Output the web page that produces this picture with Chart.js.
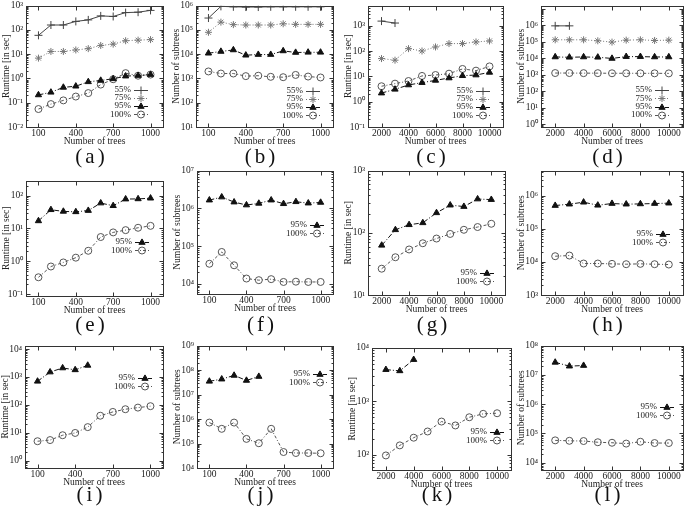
<!DOCTYPE html>
<html>
<head>
<meta charset="utf-8">
<script src="https://cdn.jsdelivr.net/npm/chart.js@4.4.1/dist/chart.umd.min.js"></script>
<style>
  html, body { margin: 0; padding: 0; background: #fff; }
  #fig { position: relative; width: 685px; height: 508px; overflow: hidden; background: #fff; }
  #fig canvas { position: absolute; }
</style>
</head>
<body>
<div id="fig"></div>
<script>
// x values and tick labels
const treesSmall = [100, 200, 300, 400, 500, 600, 700, 800, 900, 1000];
const treesLarge = [2000, 3000, 4000, 5000, 6000, 7000, 8000, 9000, 10000];
const ticksSmall = [100, 400, 700, 1000];
const ticksLarge = [2000, 4000, 6000, 8000, 10000];
const xTitle = 'Number of trees';
const runtimeTitle = 'Runtime [in sec]';
const subtreeTitle = 'Number of subtrees';

// (a) runtime, 100..1000 trees
const runA55 = [60, 160, 160, 225, 260, 380, 360, 520, 540, 640];
const runA75 = [6.9, 13, 13, 15, 17, 23, 26, 36, 38, 40];
const runA95 = [0.21, 0.27, 0.43, 0.48, 0.73, 0.83, 0.97, 1.25, 1.32, 1.45];
const runA100 = [0.055, 0.088, 0.125, 0.18, 0.25, 0.56, 0.93, 1.66, 1.3, 1.45];
// (b) subtrees, 100..1000 trees
const subB55 = [3.1e5, 9.4e5, 9e5, 8.8e5, 8.8e5, 9e5, 9e5, 9e5, 9e5, 9e5];
const subB75 = [8e4, 2.1e5, 1.66e5, 1.6e5, 1.6e5, 1.6e5, 1.8e5, 1.7e5, 1.7e5, 1.7e5];
const subB95 = [1.1e4, 1.3e4, 1.5e4, 9.1e3, 9.7e3, 9.7e3, 1.37e4, 1.18e4, 1.2e4, 1.2e4];
const subB100 = [1950, 1600, 1600, 1250, 1300, 1170, 1130, 1400, 1200, 1100];
// (c) runtime, 2000..10000 trees
const runC55 = [1550, 1300];
const runC75 = [51, 44, 126, 102, 147, 200, 200, 232, 254];
const runC95 = [2.2, 3.1, 4.6, 5.7, 7.0, 8.7, 10.7, 11.4, 14.5];
const runC100 = [4.1, 5.2, 6.6, 10.5, 11.4, 12.9, 19.8, 17, 25];
// (d) subtrees, 2000..10000 trees
const subD55 = [9.5e5, 9.5e5];
const subD75 = [1.35e5, 1.35e5, 1.35e5, 1.18e5, 9.8e4, 1.29e5, 1.35e5, 1.23e5, 1.29e5];
const subD95 = [1.23e4, 1.18e4, 1.23e4, 1.18e4, 1.0e4, 1.29e4, 1.29e4, 1.23e4, 1.23e4];
const subD100 = [1300, 1300, 1280, 1280, 1260, 1260, 1250, 1250, 1240];
// (e)
const runE95 = [17, 37, 33, 32, 35, 59, 49, 78, 79, 83];
const runE100 = [0.33, 0.7, 0.93, 1.3, 2.1, 5.5, 7.6, 8.9, 10.5, 12];
// (f)
const subF95 = [1.66e6, 2.0e6, 1.47e6, 1.23e6, 1.36e6, 1.66e6, 1.33e6, 1.5e6, 1.38e6, 1.44e6];
const subF100 = [3.4e4, 7.0e4, 3.1e4, 1.38e4, 1.25e4, 1.33e4, 1.12e4, 1.14e4, 1.12e4, 1.12e4];
// (g)
const runG95 = [63, 112, 135, 145, 210, 279, 265, 350, 343];
const runG100 = [26.5, 40.5, 54, 68, 81, 96, 112, 124, 140];
// (h)
const subH95 = [5e5, 5.5e5, 6.3e5, 5.1e5, 5.75e5, 5.5e5, 5.6e5, 5.75e5, 5.9e5];
const subH100 = [1.48e4, 1.55e4, 8.9e3, 8.9e3, 8.7e3, 8.5e3, 8.7e3, 8.5e3, 8.3e3];
// (i)
const runI95 = [700, 1500, 2100, 1800, 2600];
const runI100 = [5, 5.5, 8.2, 9.9, 16, 41, 56, 70, 80, 90];
// (j)
const subJ95 = [3.5e7, 4.3e7, 6.1e7, 3.8e7, 5.5e7];
const subJ100 = [7.2e5, 4e5, 7.2e5, 1.55e5, 1.03e5, 4e5, 4.5e4, 4.1e4, 4.1e4, 4.0e4];
// (k)
const runK95 = [3900, 3700, 6000];
const runK100 = [98, 151, 210, 274, 420, 355, 505, 585, 600];
// (l)
const subL95 = [2.7e7, 2e7, 2.1e7];
const subL100 = [5.8e4, 5.6e4, 5.5e4, 5.0e4, 4.8e4, 4.5e4, 5.2e4, 4.7e4, 4.7e4];

const FONT = "'Liberation Serif', 'Times New Roman', serif";
const INK = '#222';

// line / marker look of each series
const looks = {
  '55%':  { color: '#444', dash: [], point: 'cross', r: 4 },
  '75%':  { color: '#777', dash: [1, 2], point: 'star', r: 3.5 },
  '95%':  { color: '#111', dash: [5, 2, 1, 2], point: 'triangle', r: 3.6, fill: '#111' },
  '100%': { color: '#555', dash: [3, 2, 1, 2], point: 'circle', r: 3.5 }
};

// panel layout: box = plot frame [left, top, right, bottom] on the page
const panels = [
  { tag: 'a', xs: treesSmall, xt: ticksSmall, xr: [0, 1100], ye: [-2, 3], yTitle: runtimeTitle,
    lines: [['55%', runA55], ['75%', runA75], ['95%', runA95], ['100%', runA100]],
    box: [26, 5, 163, 127], rowBottom: 168, letterY: 157, key: [131, 89.5] },
  { tag: 'b', xs: treesSmall, xt: ticksSmall, xr: [0, 1100], ye: [1, 6], yTitle: subtreeTitle,
    lines: [['55%', subB55], ['75%', subB75], ['95%', subB95], ['100%', subB100]],
    box: [196, 5, 333, 127], rowBottom: 168, letterY: 157, key: [303, 90.5] },
  { tag: 'c', xs: treesLarge, xt: ticksLarge, xr: [1000, 11000], ye: [-1, 3.8], yTitle: runtimeTitle,
    lines: [['55%', runC55], ['75%', runC75], ['95%', runC95], ['100%', runC100]],
    box: [368, 5, 503, 127], rowBottom: 168, letterY: 157, key: [473, 90.5] },
  { tag: 'd', xs: treesLarge, xt: ticksLarge, xr: [1000, 11000], ye: [-0.16, 7.2], topLabel: 6, yTitle: subtreeTitle,
    lines: [['55%', subD55], ['75%', subD75], ['95%', subD95], ['100%', subD100]],
    box: [541, 5, 683, 127], rowBottom: 168, letterY: 157, key: [652, 90] },

  { tag: 'e', xs: treesSmall, xt: ticksSmall, xr: [0, 1100], ye: [-1.05, 2.45], yTitle: runtimeTitle,
    lines: [['95%', runE95], ['100%', runE100]],
    box: [26, 180, 163, 296], rowBottom: 338, letterY: 325, key: [132, 242] },
  { tag: 'f', xs: treesSmall, xt: ticksSmall, xr: [0, 1100], ye: [3.73, 7], yTitle: subtreeTitle,
    lines: [['95%', subF95], ['100%', subF100]],
    box: [197, 170, 333, 294], rowBottom: 338, letterY: 325, key: [307, 225] },
  { tag: 'g', xs: treesLarge, xt: ticksLarge, xr: [1000, 11000], ye: [1, 3], yTitle: runtimeTitle,
    lines: [['95%', runG95], ['100%', runG100]],
    box: [368, 170, 505, 295], rowBottom: 338, letterY: 325, key: [477, 273] },
  { tag: 'h', xs: treesLarge, xt: ticksLarge, xr: [1000, 11000], ye: [3, 6.75], yTitle: subtreeTitle,
    lines: [['95%', subH95], ['100%', subH100]],
    box: [541, 170, 683, 295], rowBottom: 338, letterY: 325, key: [653, 234] },

  { tag: 'i', xs: treesSmall, xt: ticksSmall, xr: [0, 1100], ye: [-0.26, 4.12], yTitle: runtimeTitle,
    lines: [['95%', runI95], ['100%', runI100]],
    box: [25, 345, 163, 468], rowBottom: 508, letterY: 495, key: [135, 378] },
  { tag: 'j', xs: treesSmall, xt: ticksSmall, xr: [0, 1100], ye: [4, 9], yTitle: subtreeTitle,
    lines: [['95%', subJ95], ['100%', subJ100]],
    box: [197, 345, 333, 468], rowBottom: 508, letterY: 495, key: [310, 374] },
  { tag: 'k', xs: treesLarge, xt: ticksLarge, xr: [1000, 11000], ye: [1.72, 4], yTitle: runtimeTitle,
    lines: [['95%', runK95], ['100%', runK100]],
    box: [372, 347, 511, 470], rowBottom: 508, letterY: 495, key: [487, 432] },
  { tag: 'l', xs: treesLarge, xt: ticksLarge, xr: [1000, 11000], ye: [3.75, 8], yTitle: subtreeTitle,
    lines: [['95%', subL95], ['100%', subL100]],
    box: [541, 345, 683, 470], rowBottom: 508, letterY: 495, key: [657, 407] }
];

const SUP = { '-': '\u207B', '0': '\u2070', '1': '\u00B9', '2': '\u00B2', '3': '\u00B3',
  '4': '\u2074', '5': '\u2075', '6': '\u2076', '7': '\u2077', '8': '\u2078', '9': '\u2079' };

function powerLabel(v) {
  const e = Math.round(Math.log10(v));
  return '10' + String(e).split('').map(c => SUP[c]).join('');
}

function drawMarker(ctx, look, x, y) {
  const r = look.r;
  ctx.save();
  ctx.setLineDash([]);
  ctx.lineWidth = 1;
  ctx.strokeStyle = look.color;
  ctx.beginPath();
  if (look.point === 'cross' || look.point === 'star') {
    ctx.moveTo(x - r, y); ctx.lineTo(x + r, y);
    ctx.moveTo(x, y - r); ctx.lineTo(x, y + r);
    if (look.point === 'star') {
      const d = r * 0.707;
      ctx.moveTo(x - d, y - d); ctx.lineTo(x + d, y + d);
      ctx.moveTo(x - d, y + d); ctx.lineTo(x + d, y - d);
    }
  } else if (look.point === 'triangle') {
    ctx.moveTo(x, y - r);
    ctx.lineTo(x + r * 0.866, y + r * 0.5);
    ctx.lineTo(x - r * 0.866, y + r * 0.5);
    ctx.closePath();
    ctx.fillStyle = look.fill;
    ctx.fill();
  } else {
    ctx.arc(x, y, r, 0, Math.PI * 2);
  }
  ctx.stroke();
  ctx.restore();
}

// frame with inward ticks (major + log minor) like the original plots
const framePlugin = {
  id: 'frame',
  beforeDatasetsDraw(chart) {
    const { ctx, chartArea: a, scales: { x, y } } = chart;
    const L = Math.round(a.left) + 0.5, R = Math.round(a.right) + 0.5;
    const T = Math.round(a.top) + 0.5, B = Math.round(a.bottom) + 0.5;
    ctx.save();
    ctx.strokeStyle = '#333';
    ctx.lineWidth = 1;
    ctx.strokeRect(L, T, R - L, B - T);
    ctx.beginPath();
    x.ticks.forEach(t => {
      const px = Math.round(x.getPixelForValue(t.value)) + 0.5;
      ctx.moveTo(px, B); ctx.lineTo(px, B - 4);
      ctx.moveTo(px, T); ctx.lineTo(px, T + 4);
    });
    const lo = Math.floor(Math.log10(y.min)), hi = Math.ceil(Math.log10(y.max));
    for (let e = lo; e <= hi; e++) {
      for (let m = 1; m < 10; m++) {
        const v = m * Math.pow(10, e);
        if (v < y.min * 0.999 || v > y.max * 1.001) continue;
        const py = Math.round(y.getPixelForValue(v)) + 0.5;
        const len = m === 1 ? 4 : 2;
        ctx.moveTo(L, py); ctx.lineTo(L + len, py);
        ctx.moveTo(R, py); ctx.lineTo(R - len, py);
      }
    }
    ctx.stroke();
    ctx.restore();
  }
};

const fig = document.getElementById('fig');
const TICK_SIZE = 9.5;
const LINE_H = TICK_SIZE * 1.2;

panels.forEach(p => {
  const [l, t, r, b] = p.box;
  const W = 26, padT = 8, padR = 12;
  const left = l - W, top = t - padT;
  const width = r - left + padR, height = p.rowBottom - top;
  const xHeight = p.rowBottom - b;
  const lastLabel = p.topLabel !== undefined ? p.topLabel : Math.floor(p.ye[1] + 1e-9);

  const canvas = document.createElement('canvas');
  canvas.width = width;
  canvas.height = height;
  canvas.style.left = left + 'px';
  canvas.style.top = top + 'px';
  canvas.style.width = width + 'px';
  canvas.style.height = height + 'px';
  fig.appendChild(canvas);

  const datasets = p.lines.map(([name, values]) => {
    const look = looks[name];
    return {
      label: name,
      data: values.map((v, i) => ({ x: p.xs[i], y: v })),
      borderColor: look.color,
      borderWidth: 1,
      borderDash: look.dash,
      pointStyle: look.point,
      pointRadius: look.r,
      pointBorderWidth: 1,
      pointBorderColor: look.color,
      pointBackgroundColor: look.fill || 'rgba(0,0,0,0)',
      tension: 0,
      fill: false
    };
  });

  const extras = {
    id: 'extras',
    afterDraw(chart) {
      const ctx = chart.ctx;
      const a = chart.chartArea;
      ctx.save();
      // key: label text, then line sample with marker
      ctx.font = '9px ' + FONT;
      ctx.textAlign = 'right';
      ctx.textBaseline = 'middle';
      p.lines.forEach(([name], i) => {
        const look = looks[name];
        const kx = p.key[0] - left, ky = p.key[1] - top + i * 8.3;
        ctx.fillStyle = INK;
        ctx.fillText(name, kx, ky);
        ctx.beginPath();
        ctx.setLineDash(look.dash);
        ctx.strokeStyle = look.color;
        ctx.lineWidth = 1;
        ctx.moveTo(kx + 3, Math.round(ky) + 0.5);
        ctx.lineTo(kx + 17, Math.round(ky) + 0.5);
        ctx.stroke();
        ctx.setLineDash([]);
        drawMarker(ctx, look, kx + 10, Math.round(ky) + 0.5);
      });
      // panel letter
      ctx.font = '21px ' + FONT;
      ctx.textAlign = 'center';
      ctx.fillStyle = '#111';
      if ('letterSpacing' in ctx) ctx.letterSpacing = '3px';
      ctx.fillText('(' + p.tag + ')', (a.left + a.right) / 2 - 3, p.letterY - top);
      ctx.restore();
    }
  };

  new Chart(canvas, {
    type: 'line',
    data: { datasets },
    options: {
      responsive: false,
      animation: false,
      devicePixelRatio: 1,
      layout: { padding: { left: 0, top: padT, right: padR, bottom: 0 } },
      plugins: { legend: { display: false }, tooltip: { enabled: false } },
      scales: {
        x: {
          type: 'linear',
          min: p.xr[0],
          max: p.xr[1],
          afterBuildTicks: s => { s.ticks = p.xt.map(v => ({ value: v })); },
          afterFit: s => { s.height = xHeight; },
          grid: { display: false, drawTicks: false },
          border: { display: false },
          ticks: {
            autoSkip: false, maxRotation: 0, minRotation: 0, padding: 1,
            color: INK, font: { family: FONT, size: TICK_SIZE },
            callback: v => String(v)
          },
          title: {
            display: true, text: xTitle, color: INK,
            font: { family: FONT, size: TICK_SIZE },
            padding: { top: 0, bottom: xHeight - 14 - LINE_H / 2 }
          }
        },
        y: {
          type: 'logarithmic',
          min: Math.pow(10, p.ye[0]),
          max: Math.pow(10, p.ye[1]),
          afterBuildTicks: s => {
            const ticks = [];
            for (let e = Math.ceil(p.ye[0] - 1e-9); e <= lastLabel; e++) {
              ticks.push({ value: Math.pow(10, e) });
            }
            s.ticks = ticks;
          },
          afterFit: s => { s.width = W; },
          grid: { display: false, drawTicks: false },
          border: { display: false },
          ticks: {
            autoSkip: false, padding: 3,
            color: INK, font: { family: FONT, size: TICK_SIZE },
            callback: v => powerLabel(v)
          },
          title: {
            display: true, text: p.yTitle, color: INK,
            font: { family: FONT, size: TICK_SIZE },
            padding: { top: 1, bottom: 0 }
          }
        }
      }
    },
    plugins: [framePlugin, extras]
  });
});
</script>
</body>
</html>
